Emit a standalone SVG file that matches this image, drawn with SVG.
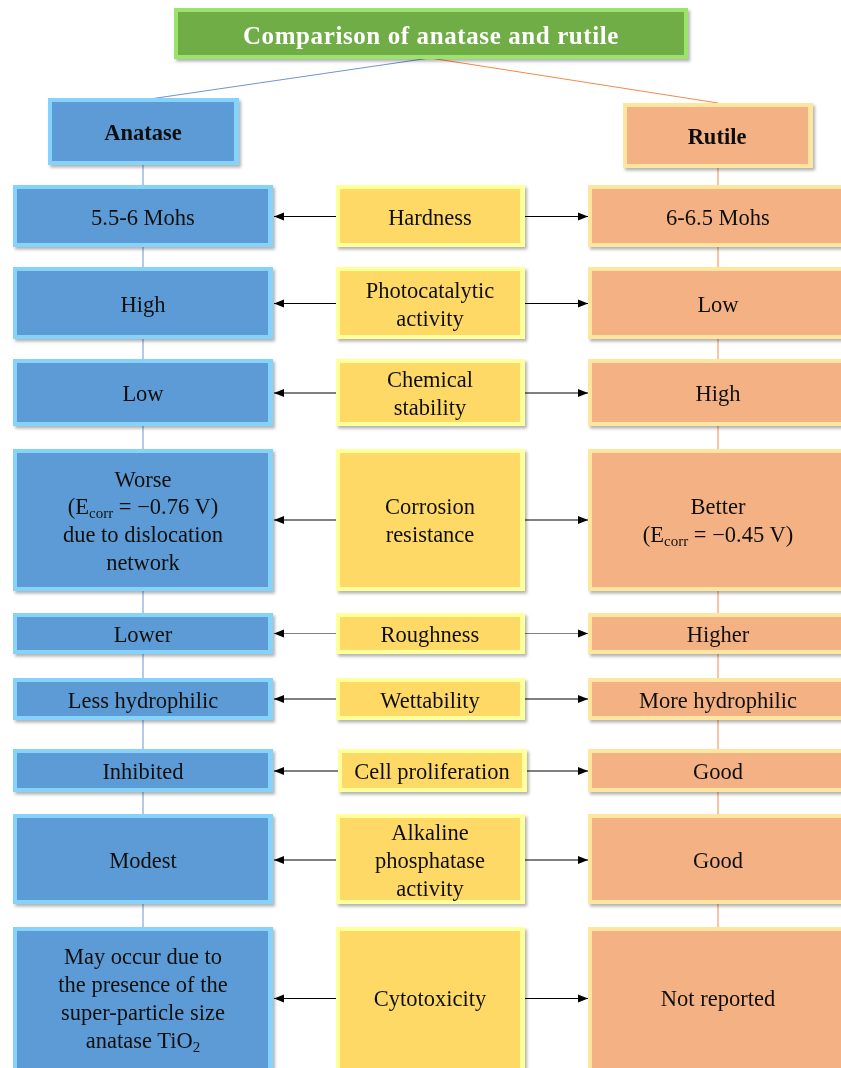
<svg xmlns="http://www.w3.org/2000/svg" width="841" height="1068" viewBox="0 0 841 1068">
<style>
  text { font-family: "Liberation Serif", "Times New Roman", serif; font-size: 22.5px; fill: #111; text-anchor: middle; }
  .title { font-size: 25px; font-weight: bold; fill: #ffffff; letter-spacing: 0.6px; }
  .head { font-size: 22.5px; font-weight: bold; }
  .sub { font-size: 15px; }
  .b-out { fill: #85d3fb; }
  .b-in { fill: #5b9bd5; }
  .y-out { fill: #ffff9c; }
  .y-in { fill: #ffd966; }
  .o-out { fill: #ffe6a0; }
  .o-in { fill: #f4b183; }
  .g-out { fill: #9be36a; }
  .g-in { fill: #70ad47; }
  .box { filter: url(#sh); }
  .arr { stroke: #000; stroke-width: 1; fill: none; marker-end: url(#ah); }
  .vl-b { stroke: #6f93d0; stroke-width: 1; fill: none; }
  .vl-o { stroke: #f08a4b; stroke-width: 1; fill: none; }
</style>
<defs>
  <filter id="sh" x="-5%" y="-10%" width="115%" height="130%">
    <feDropShadow dx="2" dy="2.5" stdDeviation="1.5" flood-color="#000" flood-opacity="0.3"/>
  </filter>
  <marker id="ah" markerUnits="userSpaceOnUse" markerWidth="10" markerHeight="10" viewBox="0 0 10 10" refX="10" refY="5" orient="auto">
    <path d="M0,1 L10,5 L0,9 Z" fill="#000"/>
  </marker>
</defs>
<rect width="841" height="1068" fill="#ffffff"/>

<g id="connectors">
  <line class="vl-b" x1="430" y1="58" x2="143" y2="100"/>
  <line class="vl-o" x1="430" y1="58" x2="718" y2="103"/>
  <line class="vl-b" x1="143" y1="165" x2="143" y2="927"/>
  <line class="vl-o" x1="718" y1="168" x2="718" y2="927"/>
  <line class="arr" x1="336" y1="216.5" x2="274" y2="216.5"/>
  <line class="arr" x1="525" y1="216.5" x2="588" y2="216.5"/>
  <line class="arr" x1="336" y1="303.5" x2="274" y2="303.5"/>
  <line class="arr" x1="525" y1="303.5" x2="588" y2="303.5"/>
  <line class="arr" x1="336" y1="393" x2="274" y2="393"/>
  <line class="arr" x1="525" y1="393" x2="588" y2="393"/>
  <line class="arr" x1="336" y1="520" x2="274" y2="520"/>
  <line class="arr" x1="525" y1="520" x2="588" y2="520"/>
  <line class="arr" x1="336" y1="633.5" x2="274" y2="633.5" style="stroke:#808080"/>
  <line class="arr" x1="525" y1="633.5" x2="588" y2="633.5" style="stroke:#808080"/>
  <line class="arr" x1="336" y1="699" x2="274" y2="699"/>
  <line class="arr" x1="525" y1="699" x2="588" y2="699"/>
  <line class="arr" x1="338" y1="771" x2="274" y2="771"/>
  <line class="arr" x1="527" y1="771" x2="588" y2="771"/>
  <line class="arr" x1="336" y1="860" x2="274" y2="860"/>
  <line class="arr" x1="525" y1="860" x2="588" y2="860"/>
  <line class="arr" x1="336" y1="998.5" x2="274" y2="998.5"/>
  <line class="arr" x1="525" y1="998.5" x2="588" y2="998.5"/>
</g>

<g id="title" class="box">
  <rect class="g-out" x="174" y="8" width="514" height="51"/>
  <rect class="g-in" x="178" y="12" width="506" height="43"/>
  <text class="title" x="431" y="44">Comparison of anatase and rutile</text>
</g>

<g id="anatase" class="box">
  <rect class="b-out" x="48" y="98" width="191" height="67"/>
  <rect class="b-in" x="52" y="102" width="182" height="59"/>
  <text class="head" x="143" y="140">Anatase</text>
</g>
<g id="rutile" class="box">
  <rect class="o-out" x="623" y="103" width="190" height="65"/>
  <rect class="o-in" x="627" y="107" width="181" height="57"/>
  <text class="head" x="717" y="144">Rutile</text>
</g>

<!-- Row 1 -->
<g id="a-hardness" class="box">
  <rect class="b-out" x="13" y="185" width="260" height="62"/>
  <rect class="b-in" x="17" y="189" width="251" height="54"/>
  <text x="143" y="225">5.5-6 Mohs</text>
</g>
<g id="hardness" class="box">
  <rect class="y-out" x="336" y="185" width="189" height="62"/>
  <rect class="y-in" x="340" y="189" width="180" height="54"/>
  <text x="430" y="225">Hardness</text>
</g>
<g id="r-hardness" class="box">
  <rect class="o-out" x="588" y="185" width="262" height="62"/>
  <rect class="o-in" x="592" y="189" width="253" height="54"/>
  <text x="718" y="225">6-6.5 Mohs</text>
</g>

<!-- Row 2 -->
<g id="a-photo" class="box">
  <rect class="b-out" x="13" y="267" width="260" height="72"/>
  <rect class="b-in" x="17" y="271" width="251" height="64"/>
  <text x="143" y="311.5">High</text>
</g>
<g id="photo" class="box">
  <rect class="y-out" x="336" y="267" width="189" height="72"/>
  <rect class="y-in" x="340" y="271" width="180" height="64"/>
  <text x="430" y="298">Photocatalytic</text>
  <text x="430" y="326">activity</text>
</g>
<g id="r-photo" class="box">
  <rect class="o-out" x="588" y="267" width="262" height="72"/>
  <rect class="o-in" x="592" y="271" width="253" height="64"/>
  <text x="718" y="311.5">Low</text>
</g>

<!-- Row 3 -->
<g id="a-chem" class="box">
  <rect class="b-out" x="13" y="359" width="260" height="67"/>
  <rect class="b-in" x="17" y="363" width="251" height="59"/>
  <text x="143" y="400.5">Low</text>
</g>
<g id="chem" class="box">
  <rect class="y-out" x="336" y="359" width="189" height="67"/>
  <rect class="y-in" x="340" y="363" width="180" height="59"/>
  <text x="430" y="387">Chemical</text>
  <text x="430" y="415">stability</text>
</g>
<g id="r-chem" class="box">
  <rect class="o-out" x="588" y="359" width="262" height="67"/>
  <rect class="o-in" x="592" y="363" width="253" height="59"/>
  <text x="718" y="400.5">High</text>
</g>

<!-- Row 4 -->
<g id="a-corr" class="box">
  <rect class="b-out" x="13" y="449" width="260" height="142"/>
  <rect class="b-in" x="17" y="453" width="251" height="134"/>
  <text x="143" y="487">Worse</text>
  <text x="143" y="514">(E<tspan class="sub" dy="4">corr</tspan><tspan dy="-4"> = −0.76 V)</tspan></text>
  <text x="143" y="542">due to dislocation</text>
  <text x="143" y="570">network</text>
</g>
<g id="corr" class="box">
  <rect class="y-out" x="336" y="449" width="189" height="142"/>
  <rect class="y-in" x="340" y="453" width="180" height="134"/>
  <text x="430" y="514">Corrosion</text>
  <text x="430" y="542">resistance</text>
</g>
<g id="r-corr" class="box">
  <rect class="o-out" x="588" y="449" width="262" height="142"/>
  <rect class="o-in" x="592" y="453" width="253" height="134"/>
  <text x="718" y="514">Better</text>
  <text x="718" y="542">(E<tspan class="sub" dy="4">corr</tspan><tspan dy="-4"> = −0.45 V)</tspan></text>
</g>

<!-- Row 5 -->
<g id="a-rough" class="box">
  <rect class="b-out" x="13" y="613" width="260" height="41"/>
  <rect class="b-in" x="17" y="617" width="251" height="33"/>
  <text x="143" y="641.5">Lower</text>
</g>
<g id="rough" class="box">
  <rect class="y-out" x="336" y="613" width="189" height="41"/>
  <rect class="y-in" x="340" y="617" width="180" height="33"/>
  <text x="430" y="641.5">Roughness</text>
</g>
<g id="r-rough" class="box">
  <rect class="o-out" x="588" y="613" width="262" height="41"/>
  <rect class="o-in" x="592" y="617" width="253" height="33"/>
  <text x="718" y="641.5">Higher</text>
</g>

<!-- Row 6 -->
<g id="a-wet" class="box">
  <rect class="b-out" x="13" y="678" width="260" height="42"/>
  <rect class="b-in" x="17" y="682" width="251" height="34"/>
  <text x="143" y="707.5">Less hydrophilic</text>
</g>
<g id="wet" class="box">
  <rect class="y-out" x="336" y="678" width="189" height="42"/>
  <rect class="y-in" x="340" y="682" width="180" height="34"/>
  <text x="430" y="707.5">Wettability</text>
</g>
<g id="r-wet" class="box">
  <rect class="o-out" x="588" y="678" width="262" height="42"/>
  <rect class="o-in" x="592" y="682" width="253" height="34"/>
  <text x="718" y="707.5">More hydrophilic</text>
</g>

<!-- Row 7 -->
<g id="a-cell" class="box">
  <rect class="b-out" x="13" y="749" width="260" height="43"/>
  <rect class="b-in" x="17" y="753" width="251" height="35"/>
  <text x="143" y="779">Inhibited</text>
</g>
<g id="cell" class="box">
  <rect class="y-out" x="338" y="749" width="189" height="43"/>
  <rect class="y-in" x="342" y="753" width="180" height="35"/>
  <text x="432" y="779">Cell proliferation</text>
</g>
<g id="r-cell" class="box">
  <rect class="o-out" x="588" y="749" width="262" height="43"/>
  <rect class="o-in" x="592" y="753" width="253" height="35"/>
  <text x="718" y="779">Good</text>
</g>

<!-- Row 8 -->
<g id="a-alp" class="box">
  <rect class="b-out" x="13" y="814" width="260" height="90"/>
  <rect class="b-in" x="17" y="818" width="251" height="82"/>
  <text x="143" y="868">Modest</text>
</g>
<g id="alp" class="box">
  <rect class="y-out" x="336" y="814" width="189" height="90"/>
  <rect class="y-in" x="340" y="818" width="180" height="82"/>
  <text x="430" y="840">Alkaline</text>
  <text x="430" y="868">phosphatase</text>
  <text x="430" y="896">activity</text>
</g>
<g id="r-alp" class="box">
  <rect class="o-out" x="588" y="814" width="262" height="90"/>
  <rect class="o-in" x="592" y="818" width="253" height="82"/>
  <text x="718" y="868">Good</text>
</g>

<!-- Row 9 -->
<g id="a-cyto" class="box">
  <rect class="b-out" x="13" y="927" width="260" height="150"/>
  <rect class="b-in" x="17" y="931" width="251" height="142"/>
  <text x="143" y="964">May occur due to</text>
  <text x="143" y="992">the presence of the</text>
  <text x="143" y="1020">super-particle size</text>
  <text x="143" y="1048">anatase TiO<tspan class="sub" dy="4">2</tspan></text>
</g>
<g id="cyto" class="box">
  <rect class="y-out" x="336" y="927" width="189" height="150"/>
  <rect class="y-in" x="340" y="931" width="180" height="142"/>
  <text x="430" y="1006">Cytotoxicity</text>
</g>
<g id="r-cyto" class="box">
  <rect class="o-out" x="588" y="927" width="262" height="150"/>
  <rect class="o-in" x="592" y="931" width="253" height="142"/>
  <text x="718" y="1006">Not reported</text>
</g>
</svg>
